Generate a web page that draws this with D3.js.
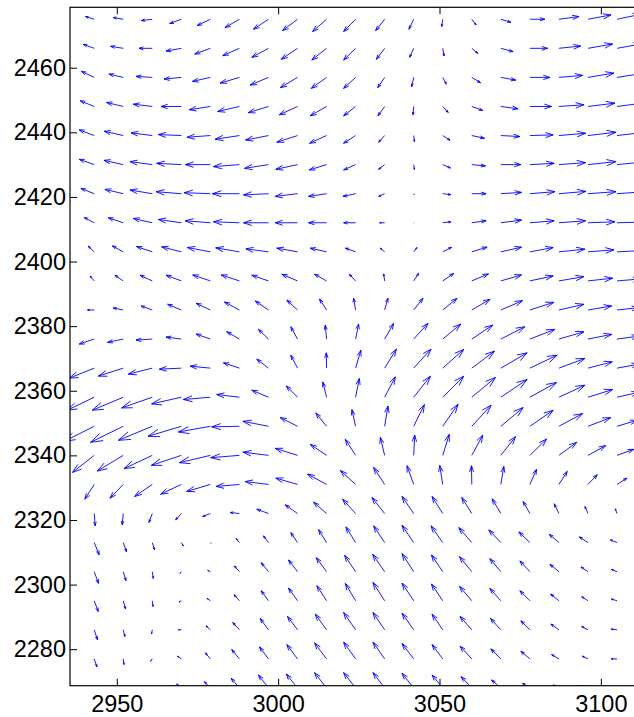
<!DOCTYPE html>
<html lang="en">
<head>
<meta charset="UTF-8"/>
<title>Quiver plot</title>
<script src="https://d3js.org/d3.v7.min.js"></script>
<style>
    body { margin: 0; background: #ffffff; }
    #chart svg { display: block; }
    .axis text { font-family: "Liberation Sans", Arial, Helvetica, sans-serif; font-size: 23.5px; fill: #000; }
    .axis line { stroke: #000; }
</style>
</head>
<body>
<div id="chart"></div>
<script>
    var w = 634;
    var h = 717;

    // grid of arrow tails
    var xCols = [2943, 2952, 2961, 2970, 2979, 2988, 2997, 3006, 3015, 3024,
                 3033, 3042, 3051, 3060, 3069, 3078, 3087, 3096, 3105];
    var yRows = [2475, 2466, 2457, 2448, 2439, 2430, 2421, 2412, 2403, 2394, 2385, 2376,
                 2367, 2358, 2349, 2340, 2331, 2322, 2313, 2304, 2295, 2286, 2277, 2268];

    // horizontal component, one row per yRows entry (top to bottom)
    var U = [
        [-8.7, -10, -11, -11.7, -13.3, -14.3, -15, -15, -14, -12, -9, -4.7, -1, 4.3, 10, 15, 20, 23, 24],
        [-11, -12.7, -13.3, -15.3, -15.7, -16.7, -16.7, -16.3, -14.7, -12, -8.3, -4, 1.3, 6, 12.3, 17.7, 21.7, 24.7, 25],
        [-12.7, -14.3, -16.3, -17.3, -18, -19.3, -18.3, -17.3, -15.3, -12, -7, -2, 3.5, 8.7, 15, 20, 23.7, 26, 26],
        [-14, -16.7, -19, -20.3, -21, -21.7, -20.3, -18.3, -16.3, -12, -6.7, -0.7, 5.5, 11, 17.3, 21.7, 25, 27, 27],
        [-15, -19, -21.3, -23, -23.3, -24.3, -23, -20.7, -17, -12, -6, 0.7, 7.3, 12.7, 19, 23.3, 26.7, 28, 28],
        [-15, -19.3, -22.3, -24.7, -25, -26, -24, -21.7, -17.3, -12, -6, 0.7, 7.7, 13.7, 20, 24.3, 26.7, 28, 28],
        [-13.3, -18.3, -22.3, -25.3, -26.3, -27, -25, -22.3, -18, -12.7, -6, 0.5, 8, 14.3, 20.7, 25, 27, 28, 28],
        [-10, -15, -19, -23, -25.3, -26, -25, -22.3, -18, -12, -5, 0, 8.2, 14.3, 20.7, 24.3, 26.7, 27, 27],
        [-6, -11, -15.7, -19.7, -23, -23.7, -22.6, -20.7, -16.3, -10.3, -4.3, 3.3, 8.7, 15.3, 20.7, 23.3, 26, 26, 26],
        [-4, -8.3, -12.3, -15.3, -17.7, -18.3, -16.7, -15.7, -12, -6.3, -1, 5, 11, 16.7, 20.7, 23.3, 25, 24.7, 24],
        [-6.7, -10, -11.3, -13.7, -14.3, -15, -13.3, -10.7, -7, -2, 3.3, 9.3, 14.3, 18.3, 21.7, 24, 25, 23.7, 22],
        [-15, -15.7, -16.3, -15.3, -14.3, -12.7, -10, -6.7, -1.3, 3, 9, 14.3, 18, 21, 24, 25, 25, 23.7, 22],
        [-25, -25, -24, -22, -20.3, -16, -11.7, -6.7, -0.3, 5.3, 11.7, 17.3, 21, 22.7, 26.3, 27.3, 26, 24.3, 22],
        [-27, -31, -30.7, -29.7, -27, -22.7, -16.7, -11.3, -3.7, 3.7, 10.7, 16.7, 21, 23.7, 26.3, 26.7, 26, 24.7, 22],
        [-30, -32.7, -34, -33.3, -32, -27.7, -25.6, -17.3, -10.7, -3.7, 3.3, 10.7, 15.3, 19.3, 22.3, 23.3, 23.7, 22.7, 20],
        [-21.7, -26, -28.3, -30, -31, -28.7, -25.6, -22.3, -16.3, -10.3, -4.3, 1, 6.5, 11, 14.7, 16.7, 17.7, 17.7, 16.7],
        [-9.3, -13.3, -17.7, -20.7, -23.7, -23.3, -23.3, -21.7, -19, -15.3, -11, -6.7, -3, -0.3, 3, 6.7, 8.3, 9.3, 10],
        [1, -1, -3.3, -5.7, -7.7, -9.3, -11.7, -12.3, -13, -13, -12.7, -11.7, -10.7, -10, -8.7, -6.7, -4.7, -3, -1.7],
        [5, 3.3, 2.3, 2, 0.7, -3.3, -5, -6.7, -8, -9.7, -11, -11.7, -11.7, -13, -12, -11, -9.7, -8.7, -6.7],
        [4.3, 2.7, 1, -1.3, -2.7, -5, -7.3, -9, -10.3, -11, -12, -11.7, -11.3, -12.3, -11, -10, -9, -7, -5.7],
        [4, 2.3, 0.7, -2.3, -3.3, -5.3, -7.3, -9, -9.7, -10.3, -11.7, -11.7, -11.3, -12.3, -11, -10, -8.3, -6.3, -5.7],
        [3.3, 1.7, -0.7, -3, -4.3, -6.7, -8.3, -10, -11.3, -12, -11.7, -11.7, -10.7, -11.7, -10.3, -9, -8, -6.3, -5.7],
        [2.7, 0.7, -1.7, -4, -5, -7.7, -9, -10.7, -12, -12, -11.7, -11.7, -10.7, -11.7, -10, -9, -7.3, -5.7, -5.7],
        [2.3, 0, -2.3, -4.7, -6, -8.3, -10, -11.3, -12, -12, -11.7, -11.7, -10.7, -10.7, -9.3, -7.3, -5.7, -5, -5]
    ];

    // vertical component (up is positive)
    var V = [
        [2.7, 1.7, -1.3, -4.3, -6.3, -8.3, -10, -11.3, -12.3, -12.3, -11.3, -10, -7.3, -5.7, -3, 0, 2.7, 4.3, 5],
        [4, 2, 0, -2.7, -5.7, -7.3, -9, -11, -11.7, -11.7, -11, -9, -7.7, -5, -3.3, 0, 2.3, 4.3, 4.5],
        [6, 3.3, 1, -1.7, -4, -5.7, -7.7, -10.3, -11, -11, -10.3, -9.3, -6.7, -5.3, -2.7, 0, 2, 4.3, 4],
        [5.7, 4, 2.3, 0, -3.3, -5, -6.2, -8.3, -9.3, -9.3, -9.3, -8.3, -6, -4, -2.3, 0, 1.7, 3.3, 3.5],
        [5.7, 4.3, 2.7, 1, -1.7, -3.7, -4.5, -6.7, -7.7, -7.7, -6.7, -6, -4.7, -2.7, -1, 0.7, 2.3, 3.3, 3.3],
        [5.3, 4.3, 3, 1.3, 0, -2, -3.7, -4.7, -5.3, -5.3, -4.7, -4.7, -3.3, -1.3, 0, 1.3, 2, 3, 2.7],
        [5.3, 4.3, 3.7, 2, 1, 0, -1.2, -2.7, -2.7, -2.7, -2.7, -1, -1, 0, 1.3, 2, 2.3, 2, 2],
        [5.3, 5, 4.3, 3.3, 2, 1, 0, 0, 0, 0, 0, -0.3, 1, 2, 2.7, 2, 2, 1, 0.7],
        [5.7, 6, 5.3, 5, 4.3, 4, 3, 3.7, 3.7, 3.7, 3.7, 4.3, 4.5, 4.7, 4.7, 4.3, 2.7, 2, 1.3],
        [4.7, 5.7, 5.7, 5.7, 6, 6, 5.7, 6.7, 6.7, 6.7, 7, 7.7, 7.5, 7, 6, 5, 4.3, 2.7, 2],
        [0, 2, 4, 5.7, 6.7, 8, 9, 10, 11, 11.7, 11.7, 11.7, 11.7, 10.7, 9.3, 7.7, 5.7, 4, 2.3],
        [-5, -3.3, -1, 2, 5, 7.3, 9.7, 12.3, 14, 15, 15.7, 15.7, 15, 14, 12.3, 9.7, 7.3, 4.7, 3],
        [-10, -8, -6, -1, 2, 5.3, 9, 13, 15.3, 18, 19, 19, 18.7, 17, 15.3, 13, 9.7, 6.3, 4],
        [-13, -13, -10.7, -6.7, -2.3, 2.7, 7, 11.3, 15.3, 18.7, 20.3, 21, 21, 19.7, 17.7, 14.7, 12, 7.7, 5],
        [-15, -16, -14, -10, -5.7, -0.5, 5, 8.7, 13.3, 16.7, 20.3, 21.7, 22, 21, 18.7, 16, 12.7, 8.7, 6],
        [-17, -15.7, -13.3, -10, -7.3, -2.3, 3.2, 7, 11, 16, 18, 20.3, 21, 20.3, 18.7, 16.3, 13, 9.7, 6],
        [-14.7, -13.7, -12, -9.7, -7, -2, 2.9, 6.3, 10.3, 14, 17, 18.7, 19, 18.7, 18, 15.3, 13, 9.7, 6.3],
        [-12.3, -11.3, -9, -6.3, -3, 1, 4.3, 8.7, 11.3, 14.3, 16, 17, 17, 16, 14.7, 12, 9.7, 7, 4.7],
        [-12.3, -9.3, -7.3, -3.3, -0.7, 4, 6.7, 10, 13, 15.7, 16.7, 17.3, 16.7, 15, 12.7, 10.7, 8.3, 5.7, 2.7],
        [-11.7, -9, -6.7, -1.7, 1.3, 5.7, 9, 11.7, 14, 16.3, 17.3, 18, 16.7, 15, 13, 10.7, 7.3, 4.7, 2.3],
        [-10.7, -8.3, -5.7, -1.3, 2.3, 6, 10, 12.7, 15, 17.3, 18.3, 17.7, 16.7, 14.3, 12.3, 10, 6.7, 4, 1.7],
        [-10, -6.7, -4, 0, 4, 7.3, 11.3, 13.3, 15.7, 17.3, 17.3, 16.7, 15.7, 13.3, 11.3, 9, 5.7, 3.3, 0.7],
        [-8, -5.7, -2.3, 2.7, 6, 9.3, 12, 14.3, 16, 16.7, 16.7, 15.3, 14.3, 12.7, 10, 7.7, 4.3, 2.7, 0],
        [-7, -4.7, -1, 4, 6.3, 9.7, 13, 14, 15.3, 15.3, 15.3, 14.7, 13, 11.3, 8, 4.7, 3, 2, 1]
    ];

    var xTicks = [2950, 3000, 3050, 3100];
    var yTicks = [2280, 2300, 2320, 2340, 2360, 2380, 2400, 2420, 2440, 2460];

    var arrowScale = 0.31;  // velocity units -> axis units
    var alpha = 0.33, beta = 0.33;  // arrow head size, like matlab quiver

    var xScale = d3.scaleLinear().domain([2935.5, 3112]).range([70, 639.6]);
    var yScale = d3.scaleLinear().domain([2268.7, 2478.7]).range([685.7, 7.3]);

    var svg = d3.select("#chart")
                .append("svg")
                .attr("width", w)
                .attr("height", h);

    svg.append("rect").attr("width", w).attr("height", h).attr("fill", "#fff");

    svg.append("clipPath").attr("id", "plotArea")
        .append("rect")
        .attr("x", xScale(2935.5)).attr("y", yScale(2478.7))
        .attr("width", xScale(3112) - xScale(2935.5))
        .attr("height", yScale(2268.7) - yScale(2478.7));

    // flatten grid into arrow list
    var arrows = [];
    yRows.forEach(function (y, i) {
        xCols.forEach(function (x, j) {
            arrows.push({x: x, y: y, u: U[i][j] * arrowScale, v: V[i][j] * arrowScale});
        });
    });

    function arrowPath(d) {
        var x = d.x, y = d.y, u = d.u, v = d.v;
        var e = 1e-9;
        var hx1 = x + u - alpha * (u + beta * (v + e)), hy1 = y + v - alpha * (v - beta * (u + e));
        var hx2 = x + u - alpha * (u - beta * (v + e)), hy2 = y + v - alpha * (v + beta * (u + e));
        return "M" + xScale(x) + "," + yScale(y) +
               "L" + xScale(x + u) + "," + yScale(y + v) +
               "M" + xScale(hx1) + "," + yScale(hy1) +
               "L" + xScale(x + u) + "," + yScale(y + v) +
               "L" + xScale(hx2) + "," + yScale(hy2);
    }

    svg.append("g")
        .attr("clip-path", "url(#plotArea)")
        .selectAll("path")
        .data(arrows)
        .enter()
        .append("path")
        .attr("d", arrowPath)
        .attr("fill", "none")
        .attr("stroke", "#0000ff")
        .attr("stroke-width", 0.9);

    // axes, ticks inward like matlab
    var fmt = d3.format("d");
    var xAxis = d3.axisBottom(xScale).tickValues(xTicks).tickFormat(fmt).tickSize(-7).tickSizeOuter(0).tickPadding(10);
    var xAxisTop = d3.axisTop(xScale).tickValues(xTicks).tickSize(-7).tickSizeOuter(0).tickFormat("");
    var yAxis = d3.axisLeft(yScale).tickValues(yTicks).tickFormat(fmt).tickSize(-7).tickSizeOuter(0).tickPadding(4);

    svg.append("g").attr("class", "axis")
        .attr("transform", "translate(0," + yScale(2268.7) + ")")
        .call(xAxis);
    svg.append("g").attr("class", "axis")
        .attr("transform", "translate(0," + yScale(2478.7) + ")")
        .call(xAxisTop);
    svg.append("g").attr("class", "axis")
        .attr("transform", "translate(" + xScale(2935.5) + ",0)")
        .call(yAxis);

    svg.selectAll(".axis .domain").remove();
    svg.selectAll(".axis text").attr("font-size", null).attr("font-family", null);

    // box
    svg.append("rect")
        .attr("x", xScale(2935.5)).attr("y", yScale(2478.7))
        .attr("width", xScale(3112) - xScale(2935.5))
        .attr("height", yScale(2268.7) - yScale(2478.7))
        .attr("fill", "none")
        .attr("stroke", "#000")
        .attr("stroke-width", 1.2);
</script>
</body>
</html>
